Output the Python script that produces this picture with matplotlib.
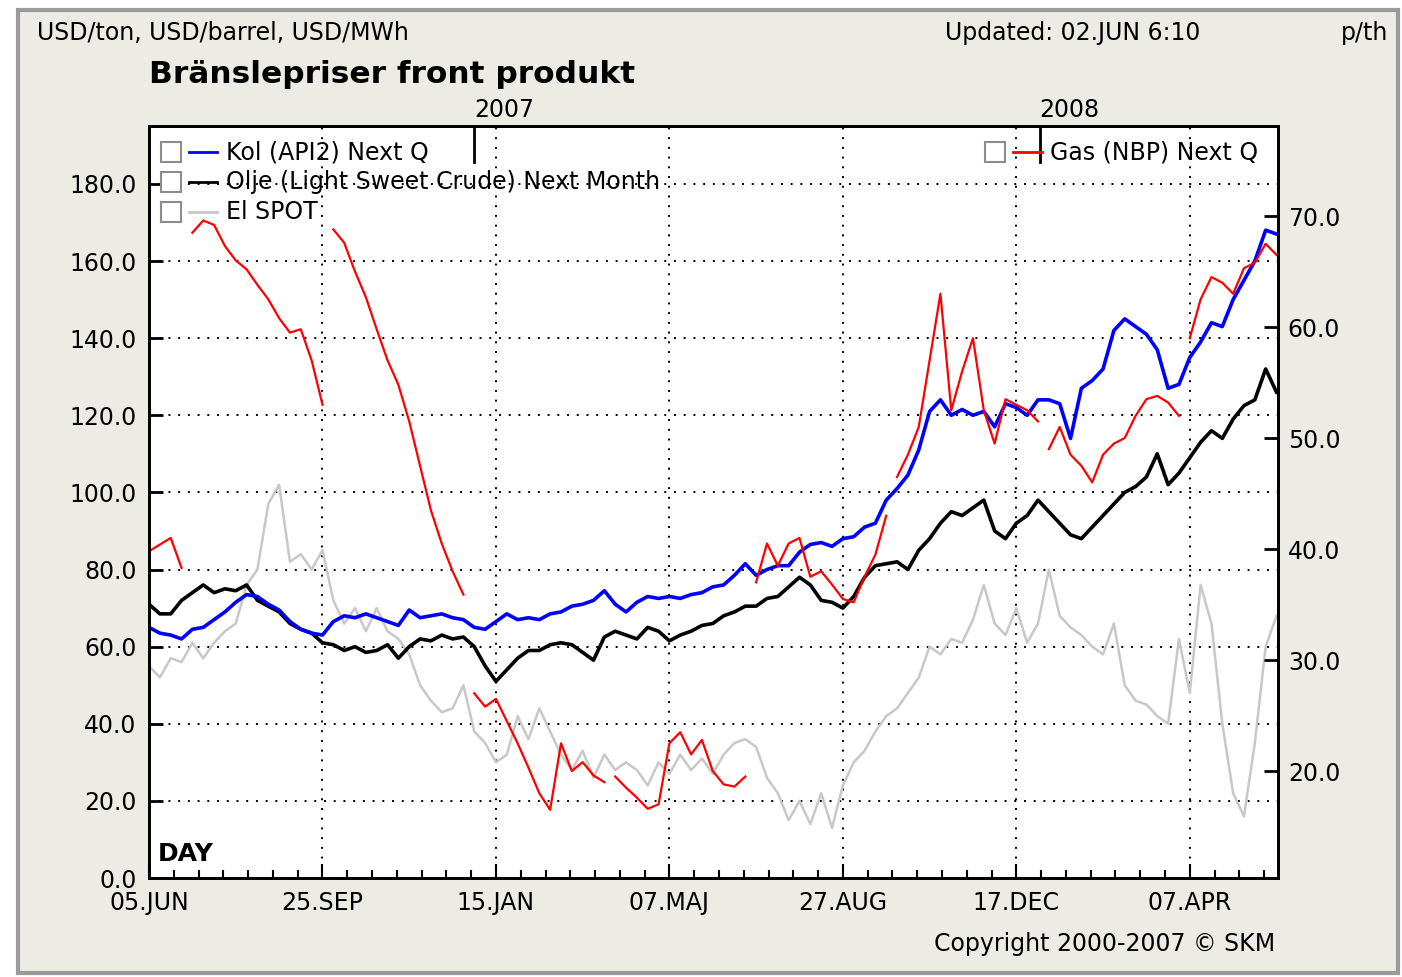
import matplotlib
matplotlib.use("Agg")
import matplotlib.pyplot as plt
import matplotlib.dates as mdates
import matplotlib.ticker as mticker
from matplotlib.patches import Rectangle
from matplotlib.lines import Line2D
import pandas as pd

# weekly samples, 05.JUN 2006 - 02.JUN 2008
weeks = pd.date_range("2006-06-05", periods=105, freq="7D")

# Kol (API2) Next Q, USD/ton
kol = [65, 63.5, 63, 62, 64.5, 65, 67, 69, 71.5, 73.5,
       73, 71, 69.5, 66.5, 64.5, 63.5, 63, 66.5, 68, 67.5,
       68.5, 67.5, 66.5, 65.5, 69.5, 67.5, 68, 68.5, 67.5, 67,
       65, 64.5, 66.5, 68.5, 67, 67.5, 67, 68.5, 69, 70.5,
       71, 72, 74.5, 71, 69, 71.5, 73, 72.5, 73, 72.5,
       73.5, 74, 75.5, 76, 78.5, 81.5, 78.5, 80, 81, 81,
       84.5, 86.5, 87, 86, 88, 88.5, 91, 92, 98, 101,
       104.5, 111, 121, 124, 120, 121.5, 120, 121, 117, 123,
       122, 120, 124, 124, 123, 114, 127, 129, 132, 142,
       145, 143, 141, 137, 127, 128, 135, 139, 144, 143,
       150, 155, 160, 168, 167]

# Olje (Light Sweet Crude) Next Month, USD/barrel
olja = [71, 68.5, 68.5, 72, 74, 76, 74, 75, 74.5, 76,
        72, 70.5, 69, 66, 64.5, 63.5, 61, 60.5, 59, 60,
        58.5, 59, 60.5, 57, 60, 62, 61.5, 63, 62, 62.5,
        60, 55, 51, 54, 57, 59, 59, 60.5, 61, 60.5,
        58.5, 56.5, 62.5, 64, 63, 62, 65, 64, 61.5, 63,
        64, 65.5, 66, 68, 69, 70.5, 70.5, 72.5, 73, 75.5,
        78, 76, 72, 71.5, 70, 73, 78, 81, 81.5, 82,
        80, 85, 88, 92, 95, 94, 96, 98, 90, 88,
        92, 94, 98, 95, 92, 89, 88, 91, 94, 97,
        100, 101.5, 104, 110, 102, 105, 109, 113, 116, 114,
        119, 122.5, 124, 132, 126]

# El SPOT, USD/MWh
el_spot = [55, 52, 57, 56, 61, 57, 61, 64, 66, 76,
           80, 97, 102, 82, 84, 80, 85, 72, 66, 70,
           64, 70, 64, 62, 58, 50, 46, 43, 44, 50,
           38, 35, 30, 32, 42, 36, 44, 38, 32, 28,
           33, 26, 32, 28, 30, 28, 24, 30, 27, 32,
           28, 31, 27, 32, 35, 36, 34, 26, 22, 15,
           20, 14, 22, 13, 24, 30, 33, 38, 42, 44,
           48, 52, 60, 58, 62, 61, 67, 76, 66, 63,
           70, 61, 66, 80, 68, 65, 63, 60, 58, 66,
           50, 46, 45, 42, 40, 62, 48, 76, 66, 40,
           22, 16, 35, 60, 68]

# Gas (NBP) Next Q, p/th (right axis)
gas = [39.8, 40.4, 41.0, 38.3,
       68.5, 69.6, 69.2, 67.3, 66.0, 65.2, 63.8, 62.5, 60.8, 59.5, 59.8, 57.0, 53.0,
       68.8, 67.6, 65.0, 62.7, 59.8, 57.0, 54.8, 51.5, 47.5, 43.5, 40.5, 38.0, 35.9,
       27.0, 25.8, 26.5, 24.5, 22.5, 20.3, 18.0, 16.5, 22.5, 20.0, 20.8, 19.6, 19.0,
       19.5, 18.5, 17.6, 16.6, 17.0, 22.5, 23.5, 21.5, 22.8, 20.0, 18.8, 18.6, 19.5,
       37.0, 40.5, 38.5, 40.5, 41.0, 37.5, 38.0, 36.8, 35.5, 35.2, 37.5, 39.5, 43.0,
       46.5, 48.5, 51.0, 57.0, 63.0, 52.5, 56.0, 59.0, 52.5, 49.5, 53.5, 53.0, 52.5, 51.5,
       49.0, 51.0, 48.5, 47.5, 46.0, 48.5, 49.5, 50.0, 52.0, 53.5, 53.8, 53.2, 52.0,
       59.0, 62.5, 64.5, 64.0, 63.0, 65.3, 65.8, 67.5, 66.5]
# first week of each new front quarter contract
gas_rolls = [4, 17, 30, 43, 56, 69, 83, 96]

x_ticks = pd.date_range("2006-06-05", "2008-04-07", freq="112D")
x_labels = ["05.JUN", "25.SEP", "15.JAN", "07.MAJ", "27.AUG", "17.DEC", "07.APR"]
years = ["2007", "2008"]
year_dates = pd.to_datetime(["2007-01-01", "2008-01-01"])

bg = "#ECEBE4"
fs = 17

fig = plt.figure(figsize=(14.02, 9.77), dpi=100, facecolor="white")
fig.patches.append(Rectangle((0.013, 0.004), 0.984, 0.986, transform=fig.transFigure,
                             facecolor=bg, edgecolor="#9A9A9A", lw=3, zorder=-10))

ax = fig.add_axes([0.1063, 0.1013, 0.8053, 0.7697])
ax2 = ax.twinx()

ax.plot(weeks, el_spot, color="#C8C8C8", lw=1.8, zorder=2)
ax.plot(weeks, olja, color="black", lw=2.6, zorder=3)
ax.plot(weeks, kol, color="#0000FF", lw=2.6, zorder=4)

bounds = [0] + gas_rolls + [len(weeks)]
for a, b in zip(bounds[:-1], bounds[1:]):
    ax2.plot(weeks[a:b], gas[a:b], color="#FF0000", lw=1.6)

start = pd.Timestamp("2006-06-05")
ax.set_xlim(start, start + pd.Timedelta(days=729))
ax.set_ylim(0, 195)
ax2.set_ylim(10.36, 78.11)

ax.set_yticks(range(0, 181, 20))
ax.yaxis.set_major_formatter(mticker.FormatStrFormatter("%.1f"))
ax2.set_yticks(range(20, 71, 10))
ax2.yaxis.set_major_formatter(mticker.FormatStrFormatter("%.1f"))

ax.set_xticks(x_ticks)
ax.set_xticklabels(x_labels)
ax.xaxis.set_minor_locator(mticker.FixedLocator(
    mdates.date2num(pd.date_range(start, start + pd.Timedelta(days=729), freq="16D"))))

ax.grid(True, axis="y", color="black", linestyle=(0, (1, 4)), lw=1.4)
ax.grid(True, axis="x", which="major", color="black", linestyle=(0, (1, 4)), lw=1.4)
ax.set_axisbelow(True)

ax.tick_params(axis="y", direction="in", length=10, width=2, labelsize=fs, pad=9)
ax.tick_params(axis="x", which="major", direction="in", length=10, width=1.5,
               labelsize=fs, pad=9)
ax.tick_params(axis="x", which="minor", direction="in", length=6, width=1.5)
ax2.tick_params(axis="y", direction="in", length=10, width=2, labelsize=fs, pad=7)
for a in (ax, ax2):
    for s in a.spines.values():
        s.set_linewidth(2)

# year markers above the plot
for d, y in zip(year_dates, years):
    ax2.plot([d, d], [1.0, 0.952], color="black", lw=2,
             transform=ax.get_xaxis_transform(), clip_on=False)
    ax.text(d, 1.021, y, transform=ax.get_xaxis_transform(), ha="left",
            va="center", fontsize=fs)

# legend with check boxes
def legend_row(x, y, color, label):
    ax2.add_patch(Rectangle((x, y - 0.0133), 0.0177, 0.0266, transform=ax2.transAxes,
                            facecolor="white", edgecolor="#8C8C8C", lw=1.5, zorder=6))
    ax2.add_line(Line2D([x + 0.025, x + 0.050], [y, y], transform=ax2.transAxes,
                        color=color, lw=2, zorder=6))
    ax2.text(x + 0.0576, y, label, transform=ax2.transAxes, va="center",
             fontsize=fs, zorder=6)

legend_row(0.0106, 0.9654, "#0000FF", "Kol (API2) Next Q")
legend_row(0.0106, 0.9255, "black", "Olje (Light Sweet Crude) Next Month")
legend_row(0.0106, 0.8856, "#C8C8C8", "El SPOT")
legend_row(0.7405, 0.9654, "#FF0000", "Gas (NBP) Next Q")

ax.text(0.008, 0.016, "DAY", transform=ax.transAxes, fontsize=18,
        fontweight="bold", va="bottom")

fig.text(0.0264, 0.966, "USD/ton, USD/barrel, USD/MWh", va="center", fontsize=fs)
fig.text(0.1063, 0.924, "Bränslepriser front produkt", va="center",
         fontsize=22.5, fontweight="bold")
fig.text(0.856, 0.966, "Updated: 02.JUN 6:10", ha="right", va="center", fontsize=fs)
fig.text(0.990, 0.966, "p/th", ha="right", va="center", fontsize=fs)
fig.text(0.9094, 0.034, "Copyright 2000-2007 © SKM", ha="right", va="center",
         fontsize=fs)

fig.savefig("out.png", dpi=100, facecolor=fig.get_facecolor())
